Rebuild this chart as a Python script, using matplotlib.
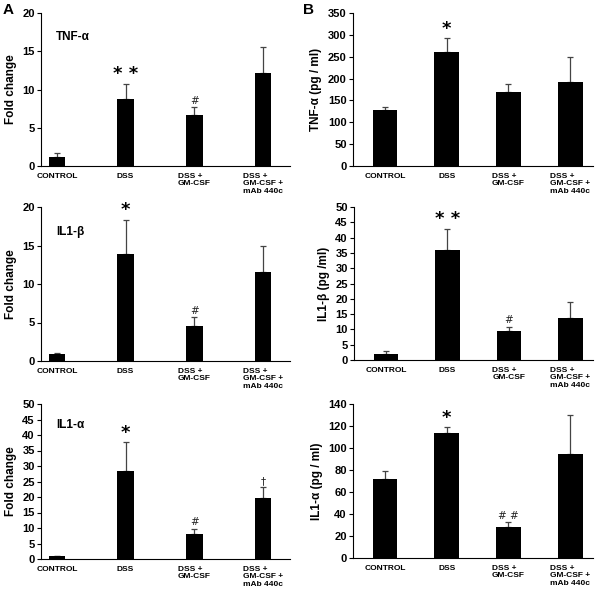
import numpy as np
import matplotlib
matplotlib.use("Agg")
import matplotlib.pyplot as plt

plt.rcParams['font.family'] = ['Liberation Sans', 'DejaVu Sans']
plt.rcParams['font.weight'] = 'bold'

groups = ['CONTROL', 'DSS', 'DSS +\nGM-CSF', 'DSS +\nGM-CSF +\nmAb 440c']

# panel A: fold change (mean, upper error)
tnf_fold = [1.15, 8.7, 6.7, 12.1]
tnf_fold_err = [0.5, 2.0, 1.0, 3.4]
il1b_fold = [0.9, 13.9, 4.5, 11.6]
il1b_fold_err = [0.15, 4.4, 1.15, 3.4]
il1a_fold = [0.85, 28.4, 8.2, 19.8]
il1a_fold_err = [0.2, 9.2, 1.6, 3.3]

# panel B: protein (pg/ml)
tnf_pg = [128.5, 260, 170, 193]
tnf_pg_err = [6, 32, 18, 56]
il1b_pg = [2.0, 35.8, 9.6, 13.6]
il1b_pg_err = [1.1, 7.0, 1.3, 5.2]
il1a_pg = [71.7, 113.9, 28.5, 95]
il1a_pg_err = [7.6, 4.8, 4.0, 35]

marks_tnf_fold = ['* *', '#', '', '']
marks_il1b_fold = ['*', '#', '', '']
marks_il1a_fold = ['*', '#', '\u2020', '']
marks_tnf_pg = ['*', '', '', '']
marks_il1b_pg = ['* *', '#', '', '']
marks_il1a_pg = ['*', '# #', '', '']

W, H = 600, 592
fig = plt.figure(figsize=(W / 100, H / 100), dpi=100)


def px_axes(left, top, right, bottom):
    return fig.add_axes([left / W, (H - bottom) / H, (right - left) / W, (bottom - top) / H])


def draw_panel(ax, vals, errs, marks, ymax, ystep, ylabel, width, xlim, inner=None, inner_y=0.84):
    x = np.arange(len(vals))
    ax.bar(x, vals, width=width, color='black', zorder=2)
    ax.errorbar(x, vals, yerr=[np.zeros(len(vals)), errs], fmt='none',
                ecolor='#444444', elinewidth=0.9, capsize=2.5, capthick=0.9, zorder=1)
    # significance marks above the error bars (DSS onwards)
    for i, m in enumerate([''] + marks[:3]):
        if not m:
            continue
        top = vals[i] + errs[i]
        if '*' in m:
            ax.text(i, top + ymax * 0.005, m, ha='center', va='bottom', fontsize=13,
                    family='DejaVu Sans', fontweight='bold')
        else:
            ax.text(i, top + ymax * 0.01, m, ha='center', va='bottom', fontsize=7.5,
                    fontweight='normal', family='DejaVu Sans', color='#222222')
    ax.set_ylim(0, ymax)
    ax.set_yticks(np.arange(0, ymax + ystep / 2, ystep))
    ax.set_xlim(*xlim)
    ax.set_xticks(x)
    ax.set_xticklabels(groups, fontsize=6, fontweight='bold', linespacing=1.1)
    for lab in ax.get_xticklabels()[2:]:
        lab.set_horizontalalignment('center')
        lab.set_multialignment('left')
    ax.tick_params(axis='x', length=0, pad=5)
    ax.tick_params(axis='y', length=3, width=0.8, labelsize=8, pad=1.5)
    for lab in ax.get_yticklabels():
        lab.set_fontweight('bold')
    ax.spines['top'].set_visible(False)
    ax.spines['right'].set_visible(False)
    ax.spines['left'].set_linewidth(0.8)
    ax.spines['bottom'].set_linewidth(0.8)
    ax.set_ylabel(ylabel, fontsize=8.5, fontweight='bold', labelpad=4)
    if inner:
        ax.text(0.06, inner_y, inner, transform=ax.transAxes, fontsize=8.5,
                fontweight='bold', ha='left', va='center')


xl_a = (-0.23, 3.39)
xl_b = (-0.52, 3.37)

ax = px_axes(41, 13, 290, 166)
draw_panel(ax, tnf_fold, tnf_fold_err, marks_tnf_fold, 20, 5, 'Fold change', 0.24, xl_a, 'TNF-\u03b1')
ax = px_axes(353, 13, 593, 166)
draw_panel(ax, tnf_pg, tnf_pg_err, marks_tnf_pg, 350, 50, 'TNF-\u03b1 (pg / ml)', 0.4, xl_b)

ax = px_axes(41, 207, 290, 361)
draw_panel(ax, il1b_fold, il1b_fold_err, marks_il1b_fold, 20, 5, 'Fold change', 0.24, xl_a, 'IL1-\u03b2')
ax = px_axes(354, 207, 593, 360)
draw_panel(ax, il1b_pg, il1b_pg_err, marks_il1b_pg, 50, 5, 'IL1-\u03b2 (pg /ml)', 0.4, xl_b)

ax = px_axes(41, 404, 290, 559)
draw_panel(ax, il1a_fold, il1a_fold_err, marks_il1a_fold, 50, 5, 'Fold change', 0.24, xl_a, 'IL1-\u03b1', 0.865)
ax = px_axes(353, 404, 593, 558)
draw_panel(ax, il1a_pg, il1a_pg_err, marks_il1a_pg, 140, 20, 'IL1-\u03b1 (pg / ml)', 0.4, xl_b)

fig.text(3 / W, 1 - 3 / H, 'A', fontsize=11, fontweight='bold', ha='left', va='top')
fig.text(303 / W, 1 - 3 / H, 'B', fontsize=11, fontweight='bold', ha='left', va='top')

fig.savefig('out.png', dpi=100)
